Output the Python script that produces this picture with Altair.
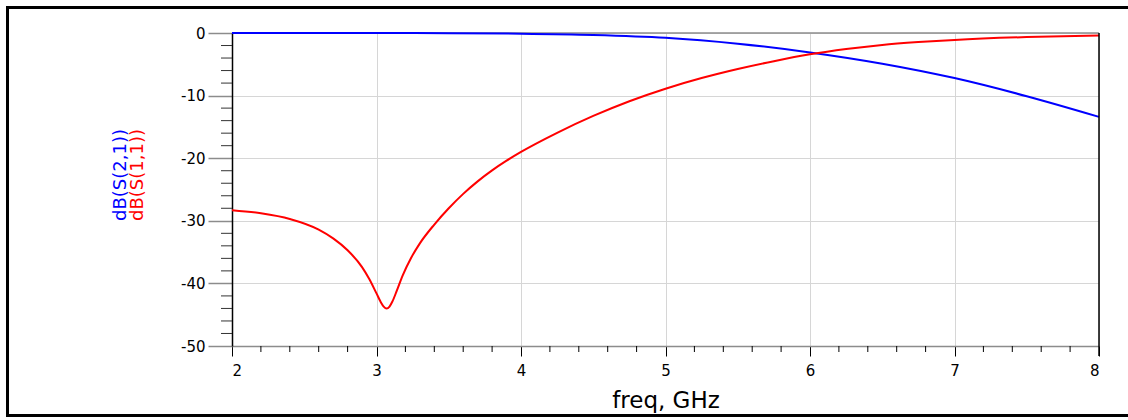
import altair as alt
import pandas as pd

# S-parameter sweep, frequencies in GHz, magnitudes in dB
s21_freq = [2.0, 3.0, 3.5, 4.0, 4.5, 5.0, 5.5, 6.0, 6.5, 7.0, 7.5, 8.0]
s21_db = [0.0, -0.01, -0.03, -0.1, -0.3, -0.75, -1.7, -3.1, -4.9, -7.2, -10.1, -13.4]

s11_freq = [2.0, 2.2, 2.4, 2.6, 2.7, 2.8, 2.9, 2.95, 3.0, 3.03, 3.05, 3.07, 3.09, 3.11,
            3.14, 3.18, 3.24, 3.30, 3.4, 3.5, 3.6, 3.7, 3.8, 3.9, 4.0, 4.25, 4.5, 4.75,
            5.0, 5.25, 5.5, 5.75, 6.0, 6.25, 6.5, 6.75, 7.0, 7.5, 8.0]
s11_db = [-28.3, -28.8, -29.7, -31.4, -32.8, -34.7, -37.4, -39.3, -41.6, -43.0, -43.7, -44.0, -43.7, -42.9,
          -41.2, -38.8, -35.9, -33.6, -30.6, -28.0, -25.7, -23.7, -21.95, -20.4, -19.0, -15.95, -13.25, -10.9,
          -8.9, -7.2, -5.75, -4.5, -3.4, -2.55, -1.9, -1.45, -1.1, -0.65, -0.4]

x_ticks = [2, 3, 4, 5, 6, 7, 8]
x_minor = [2.2, 2.4, 2.6, 2.8, 3.2, 3.4, 3.6, 3.8, 4.2, 4.4, 4.6, 4.8, 5.2, 5.4, 5.6, 5.8,
           6.2, 6.4, 6.6, 6.8, 7.2, 7.4, 7.6, 7.8]
y_ticks = [0, -10, -20, -30, -40, -50]
y_minor = [-2, -4, -6, -8, -12, -14, -16, -18, -22, -24, -26, -28, -32, -34, -36, -38,
           -42, -44, -46, -48]

trace_names = ["dB(S(2,1))", "dB(S(1,1))"]
trace_colors = ["#0000ff", "#ff0000"]

W, H = 867, 313
FONT = "DejaVu Sans"

s21 = pd.DataFrame({"freq": s21_freq, "db": s21_db})
s11 = pd.DataFrame({"freq": s11_freq, "db": s11_db})

x_scale = alt.Scale(domain=[2, 8], nice=False, zero=False)
y_scale = alt.Scale(domain=[-50, 0], nice=False, zero=False)

x_axis = alt.Axis(values=x_ticks, grid=True, gridColor="#d6d6d6", gridWidth=1,
                  tickSize=10, tickColor="black", tickWidth=1,
                  domainColor="#8c8c8c", domainWidth=1.5,
                  labelFont=FONT, labelFontSize=15, labelColor="black", labelPadding=7,
                  title="freq, GHz", titleFont=FONT, titleFontSize=23,
                  titleFontWeight="normal", titleColor="black", titlePadding=11)
y_axis = alt.Axis(values=y_ticks, grid=True, gridColor="#d6d6d6", gridWidth=1,
                  tickSize=24, tickColor="#8c8c8c", tickWidth=1.5,
                  domainColor="black", domainWidth=1.5,
                  labelExpr="'' + datum.value",
                  labelFont=FONT, labelFontSize=15, labelColor="black", labelPadding=3,
                  title=None)

X = alt.X("freq:Q", scale=x_scale, axis=x_axis)
Y = alt.Y("db:Q", scale=y_scale, axis=y_axis)

line_s21 = alt.Chart(s21).mark_line(color=trace_colors[0], strokeWidth=2, interpolate="monotone").encode(x=X, y=Y)
line_s11 = alt.Chart(s11).mark_line(color=trace_colors[1], strokeWidth=2, interpolate="monotone").encode(x=X, y=Y)

# minor ticks below the frequency axis
minor_x = alt.Chart(pd.DataFrame({"freq": x_minor})).mark_rule(color="black", strokeWidth=1).encode(
    x=X, y=alt.value(H), y2=alt.value(H + 6),
)
# minor ticks left of the dB axis
minor_y = alt.Chart(pd.DataFrame({"db": y_minor})).mark_rule(color="#333333", strokeWidth=1).encode(
    y=Y, x=alt.value(-11), x2=alt.value(0),
)

one = pd.DataFrame({"k": [0]})

# plot frame: gray top edge, black right edge
top_edge = alt.Chart(one).mark_rule(color="#8c8c8c", strokeWidth=1.5).encode(
    x=alt.value(0), x2=alt.value(W), y=alt.value(0)
)
right_edge = alt.Chart(one).mark_rule(color="black", strokeWidth=1.5).encode(
    x=alt.value(W), y=alt.value(0), y2=alt.value(H + 10)
)

# outer border around the whole graphic
border = alt.Chart(one).mark_rect(filled=False, stroke="black", strokeWidth=3).encode(
    x=alt.value(-224.5), x2=alt.value(W + 60), y=alt.value(-25.5), y2=alt.value(382.5)
)

# stacked, coloured trace names on the left
title_s21 = alt.Chart(one).mark_text(
    text=trace_names[0], angle=270, align="center", baseline="middle",
    font=FONT, fontSize=18, color=trace_colors[0]
).encode(x=alt.value(-111), y=alt.value(142))
title_s11 = alt.Chart(one).mark_text(
    text=trace_names[1], angle=270, align="center", baseline="middle",
    font=FONT, fontSize=18, color=trace_colors[1]
).encode(x=alt.value(-94), y=alt.value(142))

chart = alt.layer(
    border, top_edge, line_s21, line_s11, minor_x, minor_y, right_edge, title_s21, title_s11
).properties(
    width=W, height=H,
    autosize=alt.AutoSizeParams(type="none"),
    padding={"left": 232, "top": 33, "right": 29, "bottom": 74},
    background="white",
).configure_view(stroke=None)

chart.save("out.html", embed_options={"renderer": "svg", "actions": False})
